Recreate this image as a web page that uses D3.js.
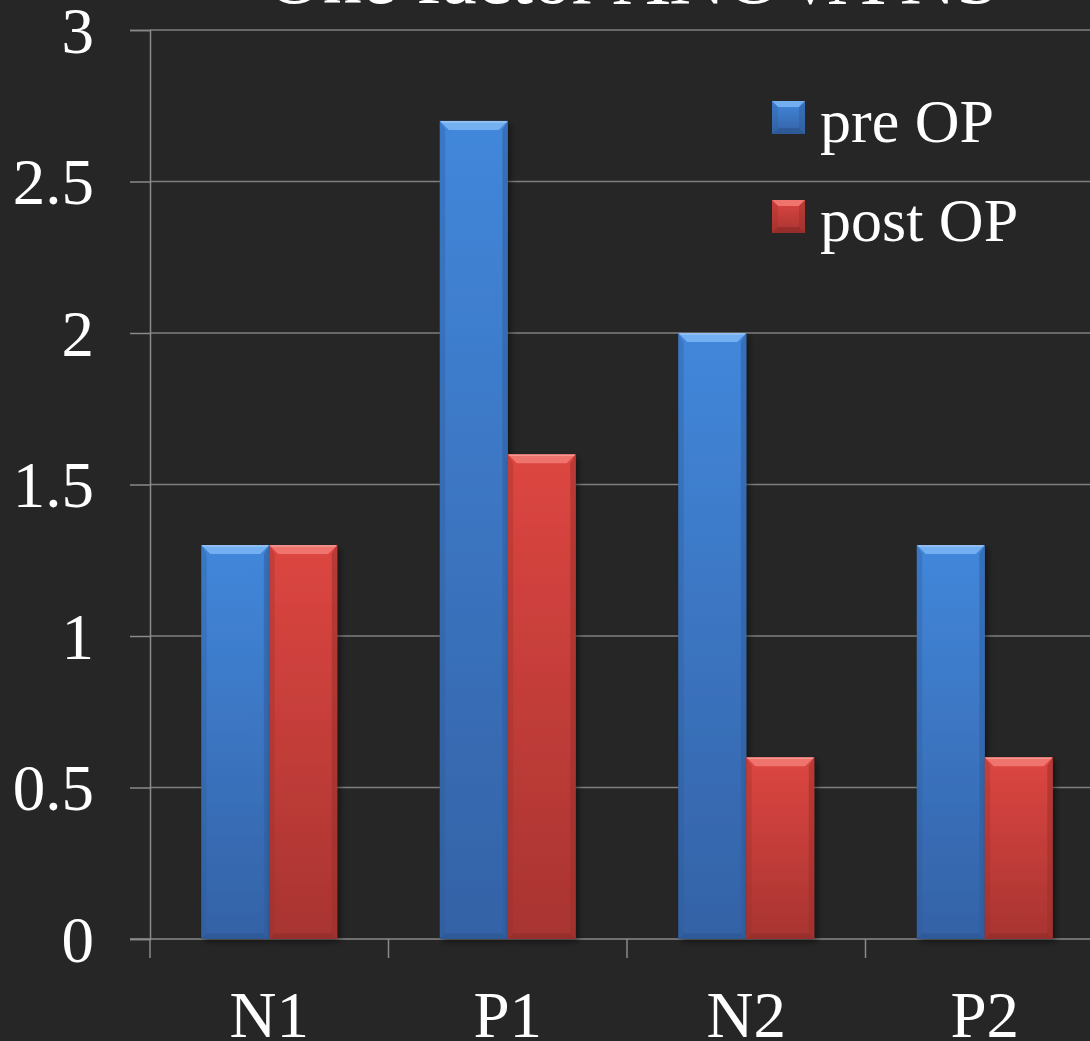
<!DOCTYPE html>
<html>
<head>
<meta charset="utf-8">
<script src="https://cdn.jsdelivr.net/npm/d3@7/dist/d3.min.js"></script>
<style>
  html, body { margin: 0; padding: 0; background: #262626; }
  svg { display: block; }
</style>
</head>
<body>
<svg id="chart" width="1090" height="1041"></svg>
<script>
// Chart data
const categories = ["N1", "P1", "N2", "P2"];
const seriesNames = ["pre OP", "post OP"];
const preOP = [1.3, 2.7, 2.0, 1.3];
const postOP = [1.3, 1.6, 0.6, 0.6];
const yTicks = [0, 0.5, 1, 1.5, 2, 2.5, 3];
const titleText = "One factor ANOVA NS";

const W = 1090, H = 1041;
const margin = { left: 150, top: 30, bottom: 102 };
const plotRight = 1104;
const svg = d3.select("#chart");
const font = "'Liberation Serif', 'Times New Roman', serif";

const x = d3.scaleBand().domain(categories).range([margin.left, plotRight]).paddingInner(0).paddingOuter(0);
const x1 = d3.scaleBand().domain(seriesNames).range([0, x.bandwidth()]).paddingInner(0).paddingOuter(0.755);
const y = d3.scaleLinear().domain([0, 3]).range([H - margin.bottom, margin.top]);

const palettes = {
  "pre OP": { top: "#7cb6f5", main1: "#4287db", main2: "#3462a6", side: "#2f5c9c", bottom: "#2c5590" },
  "post OP": { top: "#f27d76", main1: "#dd4641", main2: "#a83431", side: "#9b302c", bottom: "#8e2b28" }
};

const defs = svg.append("defs");
seriesNames.forEach((s, i) => {
  const p = palettes[s];
  const g = defs.append("linearGradient").attr("id", "grad" + i)
    .attr("x1", 0).attr("y1", 0).attr("x2", 0).attr("y2", 1);
  g.append("stop").attr("offset", "0%").attr("stop-color", p.main1);
  g.append("stop").attr("offset", "100%").attr("stop-color", p.main2);
});
const shadow = defs.append("filter").attr("id", "shadow").attr("x", "-20%").attr("y", "-5%").attr("width", "140%").attr("height", "115%");
shadow.append("feGaussianBlur").attr("in", "SourceAlpha").attr("stdDeviation", 3);
shadow.append("feOffset").attr("dx", 3).attr("dy", 3).attr("result", "b");
shadow.append("feComponentTransfer").append("feFuncA").attr("type", "linear").attr("slope", 0.45);
const merge = shadow.append("feMerge");
merge.append("feMergeNode");
merge.append("feMergeNode").attr("in", "SourceGraphic");

// Title (runs past the top edge)
svg.append("text")
  .attr("x", 633).attr("y", 3)
  .attr("text-anchor", "middle")
  .attr("font-family", font).attr("font-size", 78)
  .attr("fill", "#ffffff")
  .text(titleText);

// Gridlines
svg.append("g").selectAll("line").data(yTicks.filter(d => d > 0)).join("line")
  .attr("x1", margin.left).attr("x2", W)
  .attr("y1", d => y(d)).attr("y2", d => y(d))
  .attr("stroke", "#7f7f7f").attr("stroke-width", 1.5);

// Y axis
const yAxis = svg.append("g").attr("transform", `translate(${margin.left},0)`)
  .call(d3.axisLeft(y).tickValues(yTicks).tickSize(20).tickPadding(36).tickFormat(d3.format("")));
yAxis.select(".domain").attr("stroke", "#8a8a8a").attr("stroke-width", 1.5);
yAxis.selectAll(".tick line").attr("stroke", "#8a8a8a").attr("stroke-width", 1.5);
yAxis.selectAll(".tick text")
  .attr("font-family", font).attr("font-size", 65).attr("fill", "#ffffff")
  .attr("dy", "0.34em");

// X axis
const xAxis = svg.append("g").attr("transform", `translate(0,${y(0)})`)
  .call(d3.axisBottom(x).tickSize(0).tickPadding(0));
xAxis.select(".domain").remove();
svg.append("line").attr("x1", margin.left - 20).attr("x2", W)
  .attr("y1", y(0)).attr("y2", y(0)).attr("stroke", "#8a8a8a").attr("stroke-width", 1.5);
const boundaries = categories.map(c => x(c)).concat([x(categories[categories.length - 1]) + x.bandwidth()]);
svg.append("g").selectAll("line").data(boundaries).join("line")
  .attr("x1", d => d).attr("x2", d => d)
  .attr("y1", y(0)).attr("y2", y(0) + 19)
  .attr("stroke", "#8a8a8a").attr("stroke-width", 1.5);
xAxis.selectAll(".tick text")
  .attr("font-family", font).attr("font-size", 65).attr("fill", "#ffffff")
  .attr("y", 98).attr("dy", 0);

// Bars with bevelled edges
const rows = [];
categories.forEach((c, ci) => {
  rows.push({ cat: c, series: "pre OP", si: 0, value: preOP[ci] });
  rows.push({ cat: c, series: "post OP", si: 1, value: postOP[ci] });
});

const bevel = 9;
const bars = svg.append("g").selectAll("g.bar").data(rows).join("g").attr("class", "bar");
bars.each(function (d) {
  const g = d3.select(this);
  const p = palettes[d.series];
  const x0 = x(d.cat) + x1(d.series), w = x1.bandwidth();
  const yt = y(d.value), yb = y(0), h = yb - yt;
  g.append("rect").attr("x", x0).attr("y", yt).attr("width", w).attr("height", h)
    .attr("fill", `url(#grad${d.si})`).attr("filter", "url(#shadow)");
  // top facet
  g.append("polygon")
    .attr("points", [[x0, yt], [x0 + w, yt], [x0 + w - bevel, yt + bevel], [x0 + bevel, yt + bevel]].join(" "))
    .attr("fill", p.top).attr("opacity", 0.85);
  // left facet
  g.append("polygon")
    .attr("points", [[x0, yt], [x0 + bevel * 0.6, yt + bevel], [x0 + bevel * 0.6, yb - bevel * 0.6], [x0, yb]].join(" "))
    .attr("fill", p.side).attr("opacity", 0.35);
  // right facet
  g.append("polygon")
    .attr("points", [[x0 + w, yt], [x0 + w - bevel * 0.6, yt + bevel], [x0 + w - bevel * 0.6, yb - bevel * 0.6], [x0 + w, yb]].join(" "))
    .attr("fill", p.side).attr("opacity", 0.55);
  // bottom facet
  g.append("polygon")
    .attr("points", [[x0, yb], [x0 + bevel * 0.6, yb - bevel * 0.6], [x0 + w - bevel * 0.6, yb - bevel * 0.6], [x0 + w, yb]].join(" "))
    .attr("fill", p.bottom).attr("opacity", 0.6);
  // top highlight line
  g.append("line").attr("x1", x0 + 1).attr("x2", x0 + w - 1).attr("y1", yt + 1).attr("y2", yt + 1)
    .attr("stroke", "#ffffff").attr("stroke-opacity", 0.25).attr("stroke-width", 1.5);
});

// Legend
const legend = svg.append("g");
const legendY = [117, 216];
seriesNames.forEach((s, i) => {
  const p = palettes[s];
  const lg = legend.append("g").attr("transform", `translate(772,${legendY[i] - 16})`);
  const sz = 33, b = 6;
  lg.append("rect").attr("width", sz).attr("height", sz).attr("fill", `url(#grad${i})`);
  lg.append("polygon").attr("points", [[0, 0], [sz, 0], [sz - b, b], [b, b]].join(" ")).attr("fill", p.top).attr("opacity", 0.85);
  lg.append("polygon").attr("points", [[0, sz], [b, sz - b], [sz - b, sz - b], [sz, sz]].join(" ")).attr("fill", p.bottom).attr("opacity", 0.7);
  lg.append("polygon").attr("points", [[sz, 0], [sz - b, b], [sz - b, sz - b], [sz, sz]].join(" ")).attr("fill", p.side).attr("opacity", 0.5);
  lg.append("polygon").attr("points", [[0, 0], [b, b], [b, sz - b], [0, sz]].join(" ")).attr("fill", p.side).attr("opacity", 0.3);
  legend.append("text")
    .attr("x", 820).attr("y", legendY[i] + 25)
    .attr("font-family", font).attr("font-size", 62).attr("fill", "#ffffff")
    .text(s);
});
</script>
</body>
</html>
